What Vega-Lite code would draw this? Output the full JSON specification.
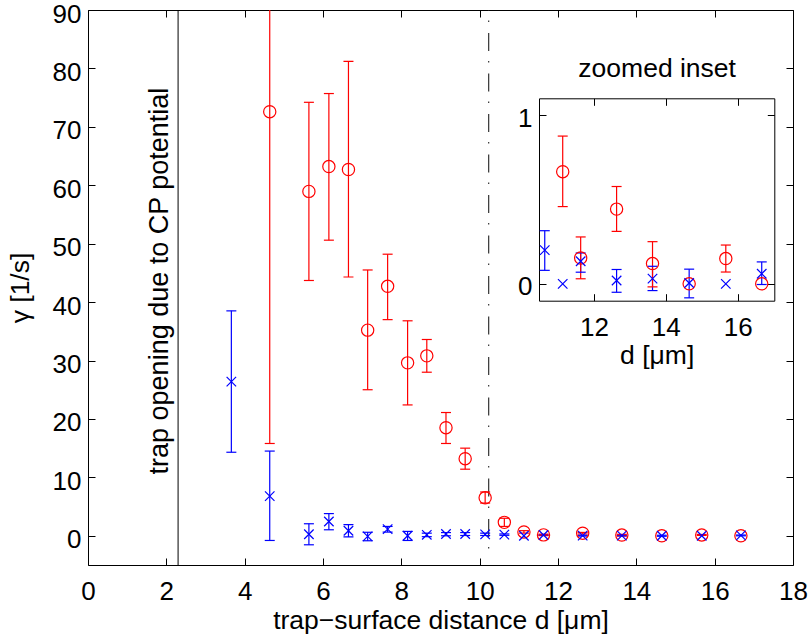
{
  "$schema": "https://vega.github.io/schema/vega-lite/v6.json",
  "width": 705,
  "height": 555,
  "autosize": {"type": "none"},
  "padding": {"left": 88, "top": 10, "right": 17, "bottom": 76},
  "background": "white",
  "config": {
    "view": {"stroke": null},
    "font": "Liberation Sans",
    "axis": {
      "labelFont": "Liberation Sans",
      "labelFontSize": 26,
      "labelColor": "black",
      "titleFont": "Liberation Sans",
      "titleFontSize": 26.5,
      "titleFontWeight": "normal",
      "titleColor": "black",
      "domainColor": "black",
      "domainWidth": 1,
      "tickColor": "black",
      "tickWidth": 1,
      "tickSize": -7,
      "grid": false,
      "labelFlush": false,
      "labelOverlap": false
    }
  },
  "datasets": {
    "pts": [
      {"d": 3.66, "g": 26.4, "lo": 14.3, "hi": 38.5, "s": "blue"},
      {"d": 4.64, "g": 6.8, "lo": -0.8, "hi": 14.5, "s": "blue"},
      {"d": 5.64, "g": 0.27, "lo": -1.54, "hi": 2.06, "s": "blue"},
      {"d": 6.15, "g": 2.45, "lo": 1.03, "hi": 3.8, "s": "blue"},
      {"d": 6.65, "g": 0.86, "lo": -0.2, "hi": 1.9, "s": "blue"},
      {"d": 7.14, "g": -0.1, "lo": -0.85, "hi": 0.6, "s": "blue"},
      {"d": 7.65, "g": 1.14, "lo": 0.63, "hi": 1.6, "s": "blue"},
      {"d": 8.16, "g": 0.0, "lo": -0.8, "hi": 0.75, "s": "blue"},
      {"d": 8.65, "g": 0.17, "lo": -0.15, "hi": 0.45, "s": "blue"},
      {"d": 9.14, "g": 0.3, "lo": 0.0, "hi": 0.55, "s": "blue"},
      {"d": 9.63, "g": 0.3, "lo": 0.05, "hi": 0.55, "s": "blue"},
      {"d": 10.14, "g": 0.25, "lo": 0.05, "hi": 0.45, "s": "blue"},
      {"d": 10.63, "g": 0.2, "lo": 0.08, "hi": 0.315, "s": "blue"},
      {"d": 11.13, "g": 0.0, "lo": null, "hi": null, "s": "blue"},
      {"d": 11.63, "g": 0.134, "lo": 0.069, "hi": 0.183, "s": "blue"},
      {"d": 12.63, "g": 0.02, "lo": -0.05, "hi": 0.085, "s": "blue"},
      {"d": 13.63, "g": 0.031, "lo": -0.04, "hi": 0.104, "s": "blue"},
      {"d": 14.65, "g": 0.005, "lo": -0.083, "hi": 0.087, "s": "blue"},
      {"d": 15.67, "g": 0.0, "lo": null, "hi": null, "s": "blue"},
      {"d": 16.67, "g": 0.06, "lo": -0.004, "hi": 0.13, "s": "blue"},
      {"d": 4.64, "g": 72.6, "lo": 15.8, "hi": 129.4, "s": "red"},
      {"d": 5.64, "g": 58.95, "lo": 43.7, "hi": 74.2, "s": "red"},
      {"d": 6.15, "g": 63.2, "lo": 50.6, "hi": 75.7, "s": "red"},
      {"d": 6.65, "g": 62.7, "lo": 44.3, "hi": 81.2, "s": "red"},
      {"d": 7.14, "g": 35.2, "lo": 25.0, "hi": 45.5, "s": "red"},
      {"d": 7.65, "g": 42.7, "lo": 37.0, "hi": 48.2, "s": "red"},
      {"d": 8.16, "g": 29.6, "lo": 22.4, "hi": 36.8, "s": "red"},
      {"d": 8.65, "g": 30.8, "lo": 28.0, "hi": 33.6, "s": "red"},
      {"d": 9.14, "g": 18.5, "lo": 15.8, "hi": 21.1, "s": "red"},
      {"d": 9.63, "g": 13.2, "lo": 11.4, "hi": 15.0, "s": "red"},
      {"d": 10.14, "g": 6.5, "lo": 5.6, "hi": 7.5, "s": "red"},
      {"d": 10.63, "g": 2.3, "lo": 1.6, "hi": 3.0, "s": "red"},
      {"d": 11.13, "g": 0.665, "lo": 0.458, "hi": 0.876, "s": "red"},
      {"d": 11.63, "g": 0.153, "lo": 0.03, "hi": 0.278, "s": "red"},
      {"d": 12.63, "g": 0.443, "lo": 0.311, "hi": 0.577, "s": "red"},
      {"d": 13.63, "g": 0.12, "lo": -0.018, "hi": 0.25, "s": "red"},
      {"d": 14.65, "g": 0.0, "lo": null, "hi": null, "s": "red"},
      {"d": 15.67, "g": 0.15, "lo": 0.07, "hi": 0.23, "s": "red"},
      {"d": 16.67, "g": 0.0, "lo": null, "hi": null, "s": "red"}
    ],
    "vlines": [
      {"d": 2.3}
    ],
    "dashline": [
      {"d": 10.23, "top": 90, "bottom": -3}
    ],
    "note": [
      {"d": 1.84, "g": 43.6, "label": "trap opening due to CP potential"}
    ]
  },
  "data": {"name": "pts"},
  "layer": [
    {
      "layer": [
        {
          "data": {"name": "vlines"},
          "mark": {"type": "rule", "color": "black", "strokeWidth": 1},
          "encoding": {
            "x": {"field": "d", "type": "quantitative", "scale": {"domain": [0, 18], "nice": false, "zero": false}, "axis": null}
          }
        },
        {
          "data": {"name": "dashline"},
          "mark": {"type": "rule", "color": "#333333", "strokeWidth": 1.2, "strokeDash": [18, 10, 1.5, 11], "strokeDashOffset": 17.5},
          "encoding": {
            "x": {"field": "d", "type": "quantitative", "scale": {"domain": [0, 18], "nice": false, "zero": false}, "axis": null},
            "y": {"field": "top", "type": "quantitative", "scale": {"domain": [-5, 90], "nice": false, "zero": false}, "axis": null},
            "y2": {"field": "bottom"}
          }
        },
        {
          "data": {"name": "note"},
          "mark": {"type": "text", "angle": 270, "fontSize": 27, "font": "Liberation Sans", "align": "center", "baseline": "middle", "color": "black"},
          "encoding": {
            "x": {"field": "d", "type": "quantitative", "scale": {"domain": [0, 18], "nice": false, "zero": false}, "axis": null},
            "y": {"field": "g", "type": "quantitative", "scale": {"domain": [-5, 90], "nice": false, "zero": false}, "axis": null},
            "text": {"field": "label"}
          }
        },
        {
          "mark": {"type": "rule", "strokeWidth": 1.2, "clip": true},
          "encoding": {
            "x": {"field": "d", "type": "quantitative", "scale": {"domain": [0, 18], "nice": false, "zero": false},
                  "axis": {"orient": "top", "values": [0, 2, 4, 6, 8, 10, 12, 14, 16, 18], "labels": false, "title": null}},
            "y": {"field": "lo", "type": "quantitative", "scale": {"domain": [-5, 90], "nice": false, "zero": false},
                  "axis": {"orient": "right", "values": [0, 10, 20, 30, 40, 50, 60, 70, 80, 90], "labels": false, "title": null}},
            "y2": {"field": "hi"},
            "color": {"field": "s", "type": "nominal", "scale": {"domain": ["red", "blue"], "range": ["#ff0000", "#0000ff"]}, "legend": null}
          }
        },
        {
          "mark": {"type": "tick", "orient": "horizontal", "size": 10, "thickness": 1.2, "clip": true, "opacity": 1},
          "encoding": {
            "x": {"field": "d", "type": "quantitative", "scale": {"domain": [0, 18], "nice": false, "zero": false}, "axis": null},
            "y": {"field": "lo", "type": "quantitative", "scale": {"domain": [-5, 90], "nice": false, "zero": false}, "axis": null},
            "color": {"field": "s", "type": "nominal", "scale": {"domain": ["red", "blue"], "range": ["#ff0000", "#0000ff"]}, "legend": null}
          }
        },
        {
          "mark": {"type": "tick", "orient": "horizontal", "size": 10, "thickness": 1.2, "clip": true, "opacity": 1},
          "encoding": {
            "x": {"field": "d", "type": "quantitative", "scale": {"domain": [0, 18], "nice": false, "zero": false}, "axis": null},
            "y": {"field": "hi", "type": "quantitative", "scale": {"domain": [-5, 90], "nice": false, "zero": false}, "axis": null},
            "color": {"field": "s", "type": "nominal", "scale": {"domain": ["red", "blue"], "range": ["#ff0000", "#0000ff"]}, "legend": null}
          }
        },
        {
          "transform": [{"filter": "datum.s === 'red'"}],
          "mark": {"type": "point", "shape": "circle", "size": 150, "filled": false, "strokeWidth": 1.2, "color": "#ff0000", "opacity": 1, "clip": true},
          "encoding": {
            "x": {"field": "d", "type": "quantitative", "scale": {"domain": [0, 18], "nice": false, "zero": false}, "axis": null},
            "y": {"field": "g", "type": "quantitative", "scale": {"domain": [-5, 90], "nice": false, "zero": false}, "axis": null}
          }
        },
        {
          "transform": [{"filter": "datum.s === 'blue'"}],
          "mark": {"type": "point", "shape": "M-1,-1L1,1M-1,1L1,-1", "size": 90, "filled": false, "strokeWidth": 1.2, "color": "#0000ff", "opacity": 1, "clip": true},
          "encoding": {
            "x": {"field": "d", "type": "quantitative", "scale": {"domain": [0, 18], "nice": false, "zero": false},
                  "axis": {"orient": "bottom", "values": [0, 2, 4, 6, 8, 10, 12, 14, 16, 18], "title": "trap−surface distance d [μm]", "labelPadding": 20, "titlePadding": 3}},
            "y": {"field": "g", "type": "quantitative", "scale": {"domain": [-5, 90], "nice": false, "zero": false},
                  "axis": {"orient": "left", "values": [0, 10, 20, 30, 40, 50, 60, 70, 80, 90], "title": "γ [1/s]", "labelPadding": 14, "labelOffset": 4, "titlePadding": 18}}
          }
        }
      ],
      "resolve": {"axis": {"x": "independent", "y": "independent"}}
    },
    {
      "transform": [{"filter": "datum.d > 10.4 && datum.g < 1.1"}],
      "layer": [
        {
          "mark": {"type": "rule", "strokeWidth": 1.2, "clip": true},
          "encoding": {
            "x": {"field": "d", "type": "quantitative", "scale": {"domain": [10.47, 17.02], "range": [451, 686.3], "nice": false, "zero": false},
                  "axis": {"orient": "top", "offset": -88.3, "values": [12, 14, 16], "labels": false, "title": "zoomed inset", "titlePadding": 15}},
            "y": {"field": "lo", "type": "quantitative", "scale": {"domain": [-0.1, 1.1], "range": [290.7, 88.3], "nice": false, "zero": false},
                  "axis": {"orient": "right", "offset": -18.7, "values": [0, 1], "labels": false, "title": null}},
            "y2": {"field": "hi"},
            "color": {"field": "s", "type": "nominal", "scale": {"domain": ["red", "blue"], "range": ["#ff0000", "#0000ff"]}, "legend": null}
          }
        },
        {
          "mark": {"type": "tick", "orient": "horizontal", "size": 10, "thickness": 1.2, "clip": true, "opacity": 1},
          "encoding": {
            "x": {"field": "d", "type": "quantitative", "scale": {"domain": [10.47, 17.02], "range": [451, 686.3], "nice": false, "zero": false}, "axis": null},
            "y": {"field": "lo", "type": "quantitative", "scale": {"domain": [-0.1, 1.1], "range": [290.7, 88.3], "nice": false, "zero": false}, "axis": null},
            "color": {"field": "s", "type": "nominal", "scale": {"domain": ["red", "blue"], "range": ["#ff0000", "#0000ff"]}, "legend": null}
          }
        },
        {
          "mark": {"type": "tick", "orient": "horizontal", "size": 10, "thickness": 1.2, "clip": true, "opacity": 1},
          "encoding": {
            "x": {"field": "d", "type": "quantitative", "scale": {"domain": [10.47, 17.02], "range": [451, 686.3], "nice": false, "zero": false}, "axis": null},
            "y": {"field": "hi", "type": "quantitative", "scale": {"domain": [-0.1, 1.1], "range": [290.7, 88.3], "nice": false, "zero": false}, "axis": null},
            "color": {"field": "s", "type": "nominal", "scale": {"domain": ["red", "blue"], "range": ["#ff0000", "#0000ff"]}, "legend": null}
          }
        },
        {
          "transform": [{"filter": "datum.s === 'red'"}],
          "mark": {"type": "point", "shape": "circle", "size": 150, "filled": false, "strokeWidth": 1.2, "color": "#ff0000", "opacity": 1, "clip": true},
          "encoding": {
            "x": {"field": "d", "type": "quantitative", "scale": {"domain": [10.47, 17.02], "range": [451, 686.3], "nice": false, "zero": false}, "axis": null},
            "y": {"field": "g", "type": "quantitative", "scale": {"domain": [-0.1, 1.1], "range": [290.7, 88.3], "nice": false, "zero": false}, "axis": null}
          }
        },
        {
          "transform": [{"filter": "datum.s === 'blue'"}],
          "mark": {"type": "point", "shape": "M-1,-1L1,1M-1,1L1,-1", "size": 90, "filled": false, "strokeWidth": 1.2, "color": "#0000ff", "opacity": 1, "clip": true},
          "encoding": {
            "x": {"field": "d", "type": "quantitative", "scale": {"domain": [10.47, 17.02], "range": [451, 686.3], "nice": false, "zero": false},
                  "axis": {"orient": "bottom", "offset": -264.3, "values": [12, 14, 16], "title": "d [μm]", "labelPadding": 21, "titlePadding": 2}},
            "y": {"field": "g", "type": "quantitative", "scale": {"domain": [-0.1, 1.1], "range": [290.7, 88.3], "nice": false, "zero": false},
                  "axis": {"orient": "left", "offset": -451, "values": [0, 1], "format": "d", "title": null, "labelPadding": 14, "labelOffset": 3}}
          }
        }
      ],
      "resolve": {"axis": {"x": "independent", "y": "independent"}}
    }
  ],
  "resolve": {"scale": {"x": "independent", "y": "independent", "color": "shared"}}
}
